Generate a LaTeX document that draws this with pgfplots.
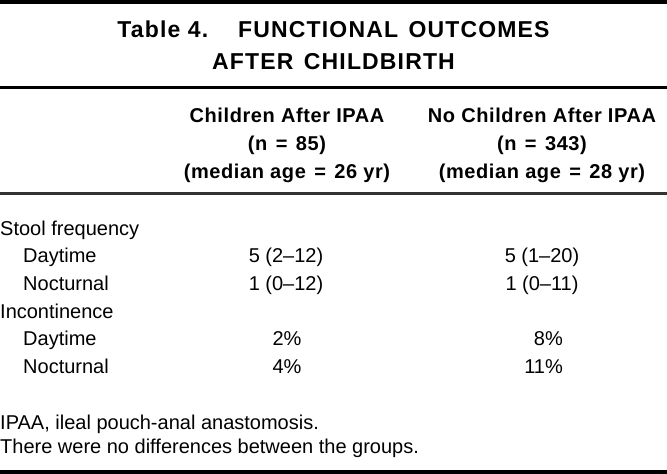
\documentclass[border=0pt]{standalone}
\usepackage{fontspec}
\setmainfont{Liberation Sans}
\usepackage{pgfplots}
\pgfplotsset{compat=1.18}
\newcommand{\titlefont}{\fontsize{23}{27}\selectfont\bfseries\addfontfeatures{LetterSpace=5}}
\newcommand{\headfont}{\fontsize{20}{24}\selectfont\bfseries\addfontfeatures{LetterSpace=3}}
\newcommand{\bodyfont}{\fontsize{20}{24}\selectfont}
\newcommand{\eq}{\hspace{0.42em}=\hspace{0.42em}}
\begin{document}
\begin{tikzpicture}
\begin{axis}[
  width=667pt, height=474pt, scale only axis,
  xmin=0, xmax=667, ymin=0, ymax=474, y dir=reverse,
  hide axis, clip=false,
]
% rules
\addplot[black, line width=4pt] coordinates {(0,2) (667,2)};
\addplot[black, line width=3pt] coordinates {(0,87.5) (667,87.5)};
\addplot[black!80, line width=3pt] coordinates {(0,193.5) (667,193.5)};
\addplot[black, line width=4pt] coordinates {(0,472) (667,472)};
% title
\node[anchor=base, inner sep=0] at (axis cs:333.5,37.3) {\titlefont Table 4.\hspace{30pt}FUNCTIONAL\hspace{3pt} OUTCOMES};
\node[anchor=base, inner sep=0] at (axis cs:333.5,69.3) {\titlefont AFTER\hspace{3pt} CHILDBIRTH};
% header
\node[anchor=base, inner sep=0] at (axis cs:287,122.7) {\headfont Children After IPAA};
\node[anchor=base, inner sep=0] at (axis cs:287,150) {\headfont (n\eq{}85)};
\node[anchor=base, inner sep=0] at (axis cs:287,178) {\headfont (median age\eq{}26 yr)};
\node[anchor=base, inner sep=0] at (axis cs:542,122.7) {\headfont No Children After IPAA};
\node[anchor=base, inner sep=0] at (axis cs:542,150) {\headfont (n\eq{}343)};
\node[anchor=base, inner sep=0] at (axis cs:542,178) {\headfont (median age\eq{}28 yr)};
% row labels
\node[anchor=base west, inner sep=0] at (axis cs:0,235) {\bodyfont Stool frequency};
\node[anchor=base west, inner sep=0] at (axis cs:23,262.5) {\bodyfont Daytime};
\node[anchor=base west, inner sep=0] at (axis cs:23,290.5) {\bodyfont Nocturnal};
\node[anchor=base west, inner sep=0] at (axis cs:0,318) {\bodyfont Incontinence};
\node[anchor=base west, inner sep=0] at (axis cs:23,345) {\bodyfont Daytime};
\node[anchor=base west, inner sep=0] at (axis cs:23,373) {\bodyfont Nocturnal};
% values
\node[anchor=base, inner sep=0] at (axis cs:286,262.5) {\bodyfont 5 (2--12)};
\node[anchor=base, inner sep=0] at (axis cs:286,290.5) {\bodyfont 1 (0--12)};
\node[anchor=base, inner sep=0] at (axis cs:287,345) {\bodyfont 2\%};
\node[anchor=base, inner sep=0] at (axis cs:287,373) {\bodyfont 4\%};
\node[anchor=base, inner sep=0] at (axis cs:542,262.5) {\bodyfont 5 (1--20)};
\node[anchor=base, inner sep=0] at (axis cs:542,290.5) {\bodyfont 1 (0--11)};
\node[anchor=base east, inner sep=0] at (axis cs:563,345) {\bodyfont 8\%};
\node[anchor=base east, inner sep=0] at (axis cs:563,373) {\bodyfont 11\%};
% footnotes
\node[anchor=base west, inner sep=0] at (axis cs:0,429.5) {\bodyfont IPAA, ileal pouch-anal anastomosis.};
\node[anchor=base west, inner sep=0] at (axis cs:0,453) {\bodyfont There were no differences between the groups.};
\coordinate (SW) at (rel axis cs:0,0);
\coordinate (NE) at (rel axis cs:1,1);
\end{axis}
\pgfresetboundingbox
\path[use as bounding box] (SW) rectangle (NE);
\end{tikzpicture}
\end{document}
